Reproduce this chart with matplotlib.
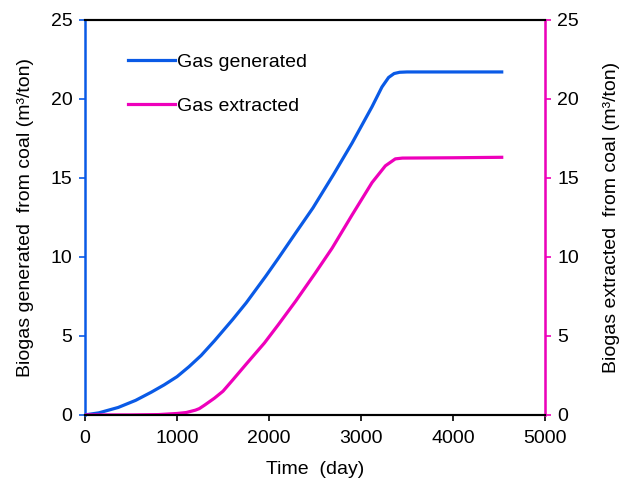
import matplotlib
matplotlib.use("Agg")
import matplotlib.pyplot as plt

# values
days_gen = [0, 150, 360, 550, 721, 860, 1000, 1130, 1262, 1407, 1604, 1752,
            1965, 2100, 2300, 2478, 2700, 2903, 3120, 3228, 3300, 3360, 3420,
            3500, 4000, 4530]
gas_gen = [0, 0.13, 0.47, 0.92, 1.44, 1.9, 2.42, 3.05, 3.76, 4.69, 6.03, 7.09,
           8.78, 9.9, 11.6, 13.1, 15.2, 17.2, 19.5, 20.75, 21.35, 21.6, 21.68,
           21.7, 21.7, 21.7]

days_ext = [0, 500, 800, 1000, 1100, 1200, 1243, 1300, 1407, 1500, 1604, 1750,
            1950, 2100, 2290, 2500, 2686, 2903, 3120, 3265, 3373, 3450, 4000, 4530]
gas_ext = [0, 0, 0.02, 0.09, 0.15, 0.3, 0.4, 0.62, 1.06, 1.5, 2.2, 3.2,
           4.55, 5.7, 7.2, 8.95, 10.55, 12.65, 14.7, 15.76, 16.2, 16.25, 16.27, 16.3]

xticks = [0, 1000, 2000, 3000, 4000, 5000]
yticks = [0, 5, 10, 15, 20, 25]

blue = "#0a5ae6"
magenta = "#ee00bb"

plt.rcParams["font.family"] = ["Liberation Sans", "DejaVu Sans"]
plt.rcParams["font.size"] = 14

fig = plt.figure(figsize=(6.3, 4.83), dpi=100)
ax = fig.add_axes([0.135, 0.141, 0.730, 0.818])
ax2 = ax.twinx()

ax.plot(days_gen, gas_gen, color=blue, lw=2.3, label="Gas generated",
        solid_joinstyle="round")
ax2.plot(days_ext, gas_ext, color=magenta, lw=2.3, label="Gas extracted",
         solid_joinstyle="round")

ax.set_xlim(0, 5000)
ax.set_ylim(0, 25)
ax2.set_ylim(0, 25)
ax.set_xticks(xticks)
ax.set_yticks(yticks)
ax2.set_yticks(yticks)

ax.tick_params(axis="x", direction="out", length=4, width=1.2, color="black", pad=7)
ax.tick_params(axis="y", direction="out", length=4, width=1.2, color=blue, pad=5)
ax2.tick_params(axis="y", direction="out", length=4, width=1.2, color=magenta, pad=5)

ax.spines["left"].set_color(blue)
ax.spines["left"].set_linewidth(1.8)
ax2.spines["right"].set_color(magenta)
ax2.spines["right"].set_linewidth(1.8)
ax2.spines["left"].set_visible(False)
for s in ["top", "bottom"]:
    ax.spines[s].set_linewidth(1.5)
    ax2.spines[s].set_linewidth(1.5)

ax.set_xlabel("Time  (day)", labelpad=10)
ax.set_ylabel("Biogas generated  from coal (m\u00b3/ton)", labelpad=12)
ax2.set_ylabel("Biogas extracted  from coal (m\u00b3/ton)", rotation=90, labelpad=17)

h1, l1 = ax.get_legend_handles_labels()
h2, l2 = ax2.get_legend_handles_labels()
ax2.legend(h1 + h2, l1 + l2, loc="upper left", bbox_to_anchor=(0.055, 0.96),
           frameon=False, handlelength=2.4, handletextpad=0.15, labelspacing=1.35)

fig.savefig("out.png", dpi=100)
